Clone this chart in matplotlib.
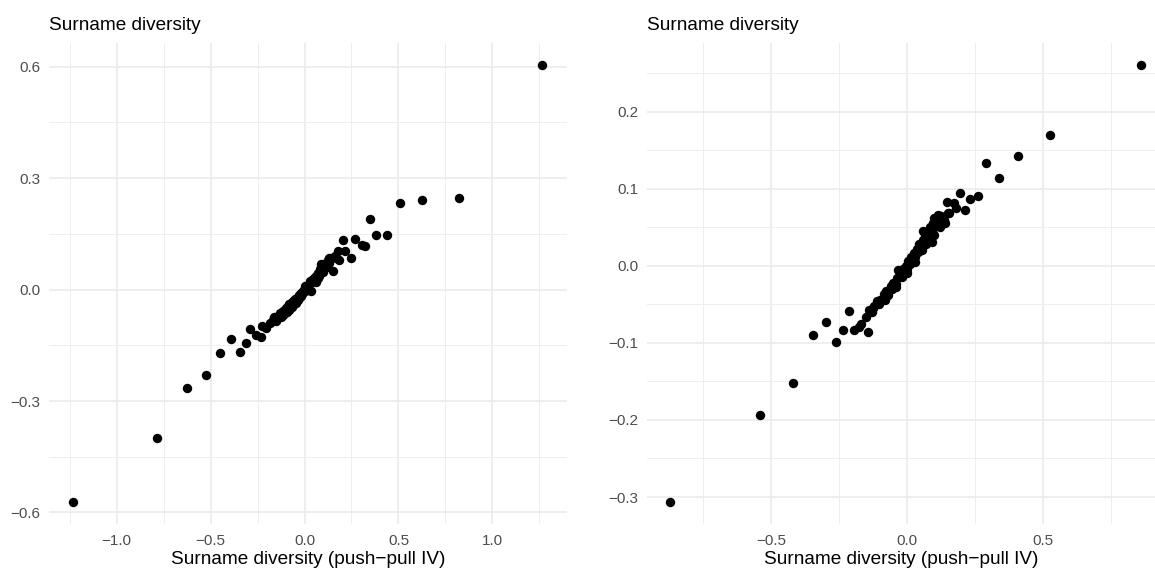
import matplotlib
matplotlib.use("Agg")
import matplotlib.pyplot as plt
from matplotlib.ticker import FixedLocator

plt.rcParams['font.family'] = ['Liberation Sans', 'DejaVu Sans']
plt.rcParams['axes.unicode_minus'] = True

title_text = "Surname diversity"
xlabel_text = "Surname diversity (push\u2212pull IV)"

# Left panel data
left_x = [-1.234, -0.786, -0.624, -0.523, -0.448, -0.389, -0.345, -0.314, -0.291, -0.258,
          -0.229, -0.224, -0.203, -0.185, -0.170, -0.150, -0.140, -0.130, -0.125, -0.115,
          -0.110, -0.100, -0.095, -0.090, -0.085, -0.080, -0.075, -0.070, -0.065, -0.060,
          -0.055, -0.050, -0.045, -0.040, -0.035, -0.030, -0.025, -0.020, -0.015, -0.010,
          -0.005, 0.000, 0.005, 0.010, 0.015, 0.020, 0.025, 0.030, 0.034, 0.040,
          0.045, 0.050, 0.055, 0.060, 0.060, 0.065, 0.070, 0.075, 0.080, 0.085,
          0.090, 0.095, 0.100, 0.105, 0.110, 0.114, 0.125, 0.130, 0.140, 0.152,
          0.160, 0.170, 0.179, 0.185, 0.203, 0.215, 0.250, 0.268, 0.304, 0.324,
          0.347, 0.383, 0.438, 0.507, 0.626, 0.821, 1.266,
          -0.120, -0.070, -0.020, 0.020, 0.070, 0.100, 0.120, -0.160, -0.050, 0.000,
          0.130, 0.090]
left_y = [-0.572, -0.400, -0.264, -0.231, -0.170, -0.134, -0.167, -0.143, -0.105, -0.121,
          -0.127, -0.099, -0.103, -0.090, -0.082, -0.085, -0.070, -0.062, -0.075, -0.058,
          -0.066, -0.050, -0.060, -0.045, -0.055, -0.040, -0.050, -0.035, -0.048, -0.030,
          -0.040, -0.025, -0.035, -0.022, -0.028, -0.015, -0.020, -0.008, -0.012, -0.004,
          0.000, -0.005, 0.005, 0.002, 0.010, 0.008, 0.015, 0.022, -0.003, 0.020,
          0.028, 0.025, 0.035, 0.030, 0.021, 0.040, 0.045, 0.038, 0.050, 0.055,
          0.048, 0.060, 0.065, 0.058, 0.070, 0.072, 0.080, 0.072, 0.085, 0.049,
          0.090, 0.085, 0.103, 0.080, 0.133, 0.103, 0.085, 0.137, 0.121, 0.118,
          0.189, 0.147, 0.148, 0.233, 0.241, 0.248, 0.604,
          -0.070, -0.045, -0.018, 0.000, 0.032, 0.048, 0.060, -0.075, -0.030, 0.010,
          0.085, 0.070]

# Right panel data
right_x = [-0.870, -0.542, -0.421, -0.345, -0.298, -0.262, -0.235, -0.213, -0.194, -0.178,
           -0.168, -0.143, -0.152, -0.140, -0.125, -0.120, -0.112, -0.105, -0.100, -0.092,
           -0.085, -0.076, -0.072, -0.066, -0.060, -0.054, -0.051, -0.042, -0.036, -0.033,
           -0.025, -0.020, -0.015, -0.010, -0.005, 0.000, 0.005, 0.010, 0.015, 0.020,
           0.025, 0.030, 0.035, 0.040, 0.045, 0.050, 0.053, 0.058, 0.062, 0.066,
           0.070, 0.075, 0.080, 0.085, 0.090, 0.090, 0.095, 0.100, 0.105, 0.110,
           0.114, 0.120, 0.125, 0.135, 0.145, 0.150, 0.155, 0.172, 0.181, 0.194,
           0.212, 0.232, 0.261, 0.289, 0.337, 0.409, 0.526, 0.860,
           -0.080, -0.040, 0.000, 0.030, 0.070, 0.100, 0.120, 0.060, 0.100, -0.130,
           0.140]
right_y = [-0.307, -0.194, -0.152, -0.090, -0.073, -0.099, -0.083, -0.059, -0.083, -0.080,
           -0.076, -0.086, -0.066, -0.058, -0.055, -0.052, -0.046, -0.050, -0.044, -0.045,
           -0.036, -0.033, -0.038, -0.032, -0.026, -0.030, -0.022, -0.024, -0.016, -0.005,
           -0.010, -0.014, -0.004, -0.008, 0.000, -0.004, 0.006, 0.002, 0.012, 0.008,
           0.016, 0.012, 0.022, 0.018, 0.028, 0.024, 0.021, 0.034, 0.030, 0.040,
           0.036, 0.045, 0.041, 0.050, 0.031, 0.046, 0.055, 0.050, 0.060, 0.055,
           0.066, 0.058, 0.065, 0.060, 0.083, 0.068, 0.068, 0.081, 0.075, 0.095,
           0.072, 0.087, 0.090, 0.133, 0.114, 0.142, 0.169, 0.261,
           -0.045, -0.028, -0.010, 0.005, 0.028, 0.040, 0.050, 0.045, 0.062, -0.060,
           0.055]

left_xticks = [-1.0, -0.5, 0.0, 0.5, 1.0]
left_yticks = [-0.6, -0.3, 0.0, 0.3, 0.6]
right_xticks = [-0.5, 0.0, 0.5]
right_yticks = [-0.3, -0.2, -0.1, 0.0, 0.1, 0.2]

W, H = 1155, 571
fig = plt.figure(figsize=(W / 100, H / 100), dpi=100)
fig.patch.set_facecolor("white")

def px_axes(x0, x1, ytop, ybot):
    return fig.add_axes([x0 / W, (H - ybot) / H, (x1 - x0) / W, (ybot - ytop) / H])

ax1 = px_axes(49, 567, 43, 524)
ax2 = px_axes(647, 1155, 43, 524)

def style(ax, xs, ys, xt, yt, xminor, yminor, xlim, ylim):
    ax.scatter(xs, ys, s=46, color="black", linewidths=0, zorder=3)
    ax.set_xlim(*xlim)
    ax.set_ylim(*ylim)
    ax.xaxis.set_major_locator(FixedLocator(xt))
    ax.yaxis.set_major_locator(FixedLocator(yt))
    ax.xaxis.set_minor_locator(FixedLocator(xminor))
    ax.yaxis.set_minor_locator(FixedLocator(yminor))
    ax.set_xticklabels([f"{v:.1f}".replace("-", "\u2212") for v in xt])
    ax.set_yticklabels([f"{v:.1f}".replace("-", "\u2212") for v in yt])
    ax.grid(True, which="major", color="#EBEBEB", linewidth=1.2, zorder=0)
    ax.grid(True, which="minor", color="#EEEEEE", linewidth=0.7, zorder=0)
    ax.set_axisbelow(True)
    for sp in ax.spines.values():
        sp.set_visible(False)
    ax.tick_params(which="both", length=0, labelsize=11, labelcolor="#4D4D4D")
    ax.tick_params(axis="x", pad=7)
    ax.tick_params(axis="y", pad=6)
    ax.set_xlabel(xlabel_text, fontsize=13.7, color="black", labelpad=2)
    ax.set_title(title_text, loc="left", fontsize=13.7, color="black", pad=9)

style(ax1, left_x, left_y, left_xticks, left_yticks,
      [-1.25, -0.75, -0.25, 0.25, 0.75, 1.25], [-0.45, -0.15, 0.15, 0.45],
      (-1.36, 1.397), (-0.631, 0.664))
style(ax2, right_x, right_y, right_xticks, right_yticks,
      [-0.75, -0.25, 0.25, 0.75], [-0.25, -0.15, -0.05, 0.05, 0.15, 0.25],
      (-0.956, 0.911), (-0.335, 0.289))

fig.savefig("out.png", dpi=100, facecolor="white")
